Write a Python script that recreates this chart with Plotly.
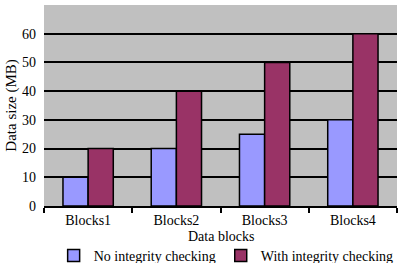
import plotly.graph_objects as go

categories = ["Blocks1", "Blocks2", "Blocks3", "Blocks4"]
no_check = [10, 20, 25, 30]
with_check = [20, 40, 50, 60]
series_names = ["No integrity checking", "With integrity checking"]

SERIF = "Times New Roman, Liberation Serif, serif"
font = dict(family=SERIF, size=14, color="#000")

fig = go.Figure()
fig.add_trace(go.Bar(x=categories, y=no_check, name=series_names[0],
                     marker=dict(color="#9999FF", line=dict(color="#000", width=1.5))))
fig.add_trace(go.Bar(x=categories, y=with_check, name=series_names[1],
                     marker=dict(color="#993366", line=dict(color="#000", width=1.5))))

fig.update_layout(
    width=403, height=263,
    margin=dict(l=44, r=6, t=5, b=57, autoexpand=False),
    paper_bgcolor="white", plot_bgcolor="#C0C0C0",
    font=font,
    bargap=0.43, bargroupgap=0,
    showlegend=True,
    legend=dict(orientation="h", x=0.516, xanchor="center", yref="paper",
                y=-0.248, yanchor="middle",
                font=dict(family=SERIF, size=14), itemwidth=30, traceorder="normal",
                bgcolor="rgba(0,0,0,0)", tracegroupgap=0),
    xaxis=dict(showline=True, linecolor="#000", linewidth=1.5, automargin=False,
               ticks="outside", tickson="boundaries", ticklen=5, tickcolor="#000",
               tickwidth=1.5, showgrid=False, tickfont=dict(family=SERIF, size=14)),
    yaxis=dict(range=[0, 70], dtick=10, showgrid=True, gridcolor="#000", gridwidth=1.5,
               zeroline=False, showline=False, ticks="", automargin=False,
               ticklabelstandoff=7,
               tickfont=dict(family=SERIF, size=14)),
    annotations=[
        dict(text="Data blocks", xref="paper", yref="paper", x=0.5, y=-0.152,
             xanchor="center", yanchor="middle", showarrow=False,
             font=dict(family=SERIF, size=14)),
        dict(text="Data size (MB)", xref="paper", yref="paper", x=-0.093, y=0.5,
             xanchor="center", yanchor="middle", textangle=-90, showarrow=False,
             font=dict(family=SERIF, size=15)),
    ],
)

fig.write_html("out.html")
